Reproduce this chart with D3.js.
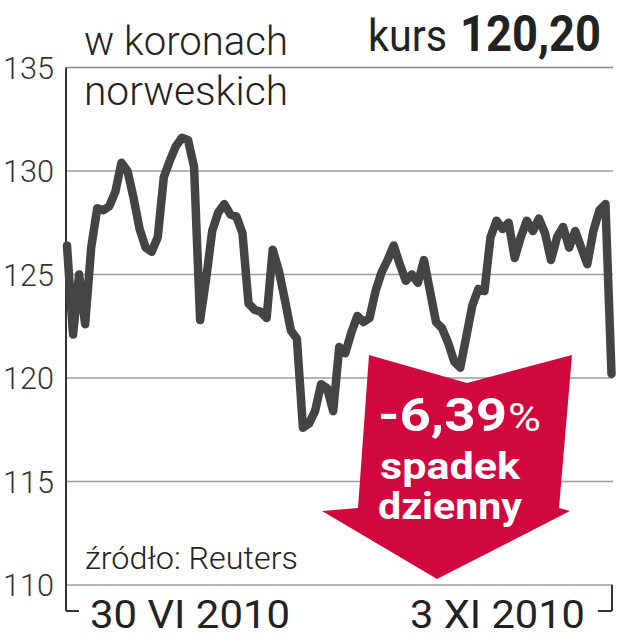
<!DOCTYPE html>
<html><head><meta charset="utf-8">
<script src="https://cdn.jsdelivr.net/npm/d3@7"></script>
<style>html,body{margin:0;padding:0;background:#fff}svg{display:block}</style>
</head><body>
<script>
// Daily closing rate (NOK), 30 VI 2010 .. 3 XI 2010
const values = [
126.4,122.1,125.0,122.6,126.3,128.2,128.1,128.3,129.0,130.4,
130.0,128.7,127.2,126.3,126.1,126.8,129.7,130.5,131.2,131.6,
131.5,130.2,122.8,124.8,127.1,128.0,128.4,127.9,127.8,127.0,
123.6,123.3,123.2,122.9,126.2,125.2,123.8,122.3,121.9,117.6,
117.8,118.4,119.7,119.5,118.4,121.5,121.2,122.2,123.0,122.7,
122.9,124.2,125.1,125.7,126.4,125.5,124.7,125.0,124.6,125.7,
124.2,122.7,122.4,121.7,120.8,120.5,122.0,123.5,124.3,124.2,
126.8,127.6,127.2,127.5,125.8,126.8,127.6,127.1,127.7,127.0,
125.7,126.8,127.3,126.3,127.1,126.3,125.5,127.1,128.1,128.4,
120.2];
const yTicks = [110,115,120,125,130,135];
const xLabels = ["30 VI 2010","3 XI 2010"];
const titleLines = ["w koronach","norweskich"];
const kursLabel = "kurs";
const kursValue = "120,20";
const changeValue = "-6,39";
const changeLines = ["spadek","dzienny"];
const sourceText = "źródło: Reuters";

const W = 617, H = 640;
const svg = d3.select("body").append("svg").attr("width",W).attr("height",H);
const x = d3.scaleLinear().domain([0, values.length-1]).range([67, 611.5]);
const y = d3.scaleLinear().domain([110,135]).range([585,67.5]);
const left = 66, right = 613;
const ff = "Roboto, 'Open Sans', sans-serif";

// gridlines
svg.append("g").selectAll("line").data(yTicks).join("line")
  .attr("x1",left).attr("x2",right)
  .attr("y1",d=>y(d)).attr("y2",d=>y(d))
  .attr("stroke",d=>d===135?"#888":"#9c9c9c").attr("stroke-width",1.6);

// y tick labels
svg.append("g").selectAll("text").data(yTicks).join("text")
  .attr("x",3).attr("y",d=>y(d)+11)
  .attr("font-family",ff).attr("font-weight",300).attr("font-size",31)
  .attr("fill","#333").attr("textLength",51).attr("lengthAdjust","spacingAndGlyphs")
  .text(d=>d);

// y axis + brackets
svg.append("line").attr("x1",left).attr("x2",left).attr("y1",y(135)).attr("y2",611)
  .attr("stroke","#333").attr("stroke-width",2);
svg.append("line").attr("x1",left).attr("x2",79).attr("y1",611).attr("y2",611)
  .attr("stroke","#333").attr("stroke-width",2);
svg.append("line").attr("x1",right-1).attr("x2",right-1).attr("y1",y(110)).attr("y2",611)
  .attr("stroke","#333").attr("stroke-width",2);
svg.append("line").attr("x1",598).attr("x2",right-1).attr("y1",611).attr("y2",611)
  .attr("stroke","#333").attr("stroke-width",2);

// line
const line = d3.line().x((d,i)=>x(i)).y(d=>y(d));
svg.append("path").datum(values).attr("d",line)
  .attr("fill","none").attr("stroke","#444").attr("stroke-width",8.5)
  .attr("stroke-linejoin","round").attr("stroke-linecap","round");

// title
svg.append("g").selectAll("text").data(titleLines).join("text")
  .attr("x",84).attr("y",(d,i)=>55+i*50)
  .attr("font-family",ff).attr("font-weight",300).attr("font-size",41)
  .attr("fill","#222").attr("textLength",204).attr("lengthAdjust","spacingAndGlyphs")
  .text(d=>d);

// kurs
svg.append("text").attr("x",368).attr("y",51)
  .attr("font-family",ff).attr("font-weight",400).attr("font-size",45)
  .attr("fill","#222").attr("textLength",79).attr("lengthAdjust","spacingAndGlyphs")
  .text(kursLabel);
svg.append("text").attr("x",460).attr("y",51)
  .attr("font-family",ff).attr("font-weight",700).attr("font-size",50)
  .attr("fill","#222").attr("textLength",141).attr("lengthAdjust","spacingAndGlyphs")
  .text(kursValue);

// source
svg.append("text").attr("x",85).attr("y",569)
  .attr("font-family",ff).attr("font-weight",300).attr("font-size",31)
  .attr("fill","#222").attr("textLength",213).attr("lengthAdjust","spacingAndGlyphs")
  .text(sourceText);

// x labels
svg.append("text").attr("x",90).attr("y",628)
  .attr("font-family",ff).attr("font-weight",400).attr("font-size",38)
  .attr("fill","#222").attr("textLength",200).attr("lengthAdjust","spacingAndGlyphs")
  .text(xLabels[0]);
svg.append("text").attr("x",410).attr("y",628)
  .attr("font-family",ff).attr("font-weight",400).attr("font-size",38)
  .attr("fill","#222").attr("textLength",175).attr("lengthAdjust","spacingAndGlyphs")
  .text(xLabels[1]);

// arrow
const arrowPts = [[369,355],[467,383],[572,355],[559,508],[570,511],[437,579],[322,511],[358,508]];
svg.append("polygon").attr("points",arrowPts.map(p=>p.join(",")).join(" "))
  .attr("fill","#d0083d");
const t1 = svg.append("text").attr("y",431).attr("fill","#fff").attr("font-family",ff);
t1.append("tspan").attr("x",378).attr("font-weight",700).attr("font-size",46)
  .attr("textLength",129).attr("lengthAdjust","spacingAndGlyphs").text(changeValue);
t1.append("tspan").attr("x",508).attr("font-weight",400).attr("font-size",38)
  .attr("textLength",33).attr("lengthAdjust","spacingAndGlyphs").text("%");
svg.append("g").selectAll("text").data(changeLines).join("text")
  .attr("x",(d,i)=>i?378:380).attr("y",(d,i)=>479+i*40)
  .attr("font-family",ff).attr("font-weight",700).attr("font-size",36)
  .attr("fill","#fff").attr("textLength",(d,i)=>i?144:140).attr("lengthAdjust","spacingAndGlyphs")
  .text(d=>d);
</script>
</body></html>
